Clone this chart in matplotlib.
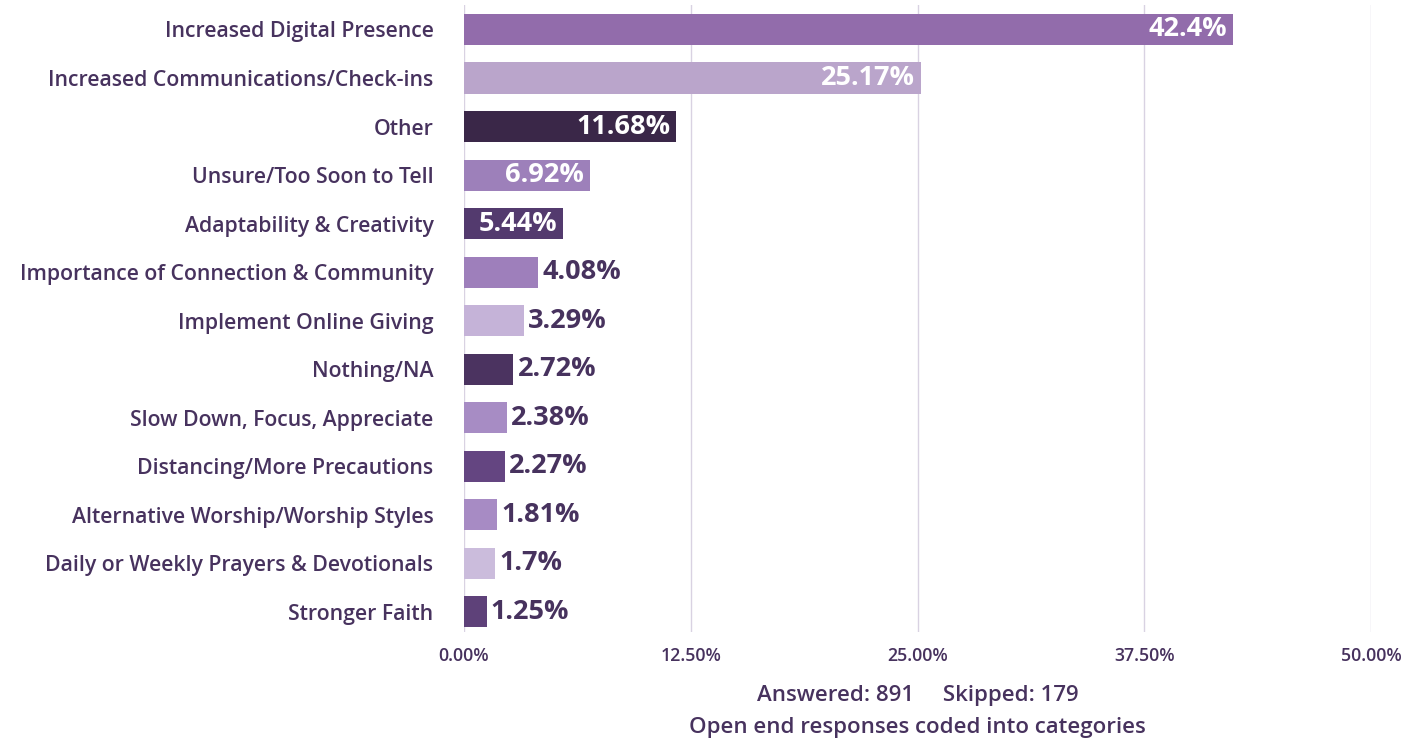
import matplotlib
matplotlib.use("Agg")
import matplotlib.pyplot as plt

categories = [
    "Increased Digital Presence",
    "Increased Communications/Check-ins",
    "Other",
    "Unsure/Too Soon to Tell",
    "Adaptability & Creativity",
    "Importance of Connection & Community",
    "Implement Online Giving",
    "Nothing/NA",
    "Slow Down, Focus, Appreciate",
    "Distancing/More Precautions",
    "Alternative Worship/Worship Styles",
    "Daily or Weekly Prayers & Devotionals",
    "Stronger Faith",
]
values = [42.4, 25.17, 11.68, 6.92, 5.44, 4.08, 3.29, 2.72, 2.38, 2.27, 1.81, 1.7, 1.25]
value_labels = ["42.4%", "25.17%", "11.68%", "6.92%", "5.44%", "4.08%", "3.29%",
                "2.72%", "2.38%", "2.27%", "1.81%", "1.7%", "1.25%"]
colors = ["#926CAB", "#BAA5CB", "#3A2748", "#9D80BA", "#533A6E", "#9E7FBB", "#C5B3D8",
          "#4B3360", "#A78CC4", "#644581", "#A78BC4", "#CBBCDC", "#5E4179"]
xticks = [0, 12.5, 25, 37.5, 50]
xtick_labels = ["0.00%", "12.50%", "25.00%", "37.50%", "50.00%"]
footer1 = "Answered: 891     Skipped: 179"
footer2 = "Open end responses coded into categories"

TXT = "#47325E"
plt.rcParams['font.family'] = ['Open Sans', 'DejaVu Sans']

fig = plt.figure(figsize=(14.19, 7.42), dpi=100)
ax = fig.add_axes([464/1419, 1-632/742, (1371-464)/1419, 627/742])

y = list(range(len(categories)))
ax.barh(y, values, height=0.64, color=colors, zorder=2)
ax.set_ylim(12.42, -0.505)
ax.set_xlim(0, 50)
ax.set_xticks(xticks)
ax.set_xticklabels(xtick_labels, fontsize=12.8, fontweight='semibold', color=TXT)
ax.set_yticks(y)
ax.set_yticklabels(categories, fontsize=15.3, fontweight='semibold', color=TXT)
ax.tick_params(axis='both', length=0)
ax.tick_params(axis='x', pad=11)
ax.tick_params(axis='y', pad=22)
for s in ax.spines.values():
    s.set_visible(False)
ax.grid(axis='x', color="#D9D2E2", linewidth=1, zorder=0)
ax.set_axisbelow(True)

for i, (v, lab) in enumerate(zip(values, value_labels)):
    if v > 5:
        ax.annotate(lab, (v, i), xytext=(-4, 0), textcoords='offset points',
                    ha='right', va='center', fontsize=19.5, fontweight='bold', color='white')
    else:
        ax.annotate(lab, (v, i), xytext=(3, 0), textcoords='offset points',
                    ha='left', va='center', fontsize=19.5, fontweight='bold', color=TXT)

cx = (464 + 1371) / 2 / 1419
fig.text(cx, 1-695/742, footer1, ha='center', va='center', fontsize=16, color=TXT, fontweight='semibold')
fig.text(cx, 1-727/742, footer2, ha='center', va='center', fontsize=16, color=TXT, fontweight='semibold')

fig.savefig("out.png", dpi=100, facecolor='white')
